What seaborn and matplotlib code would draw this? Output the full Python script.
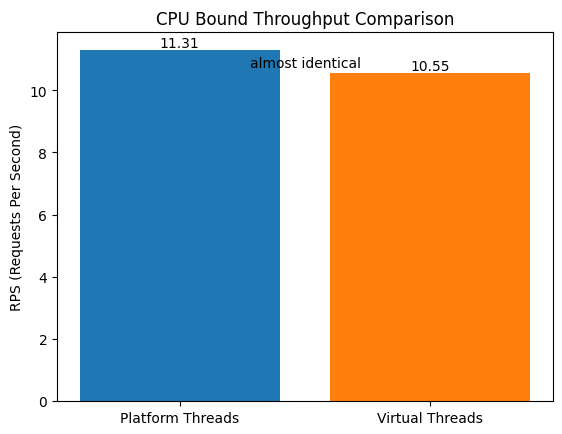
import matplotlib
matplotlib.use("Agg")
import matplotlib.pyplot as plt
import seaborn as sns
import pandas as pd

categories = ["Platform Threads", "Virtual Threads"]
rps_values = [11.31, 10.55]
bar_colors = ["#1f77b4", "#ff7f0e"]
note_text = "almost identical"

df = pd.DataFrame({"threads": categories, "rps": rps_values})

fig, ax = plt.subplots(figsize=(5.62, 4.35), dpi=100)
sns.barplot(data=df, x="threads", y="rps", hue="threads", palette=bar_colors,
            width=0.8, saturation=1, legend=False, ax=ax)

for i, v in enumerate(rps_values):
    ax.text(i, v, f"{v:.2f}", ha="center", va="bottom")

ax.text(0.5, 10.76, note_text, ha="center")

ax.set_title("CPU Bound Throughput Comparison")
ax.set_ylabel("RPS (Requests Per Second)")
ax.set_xlabel("")

# plain matplotlib-like 5% margins
ax.set_xlim(-0.49, 1.49)
ax.set_ylim(0, max(rps_values) * 1.05)

# axes box: ~57..553 px wide, ~33..402 px tall
plt.subplots_adjust(left=57/562, right=553/562, bottom=1-402/435, top=1-33/435)
fig.savefig("out.png", dpi=100)
